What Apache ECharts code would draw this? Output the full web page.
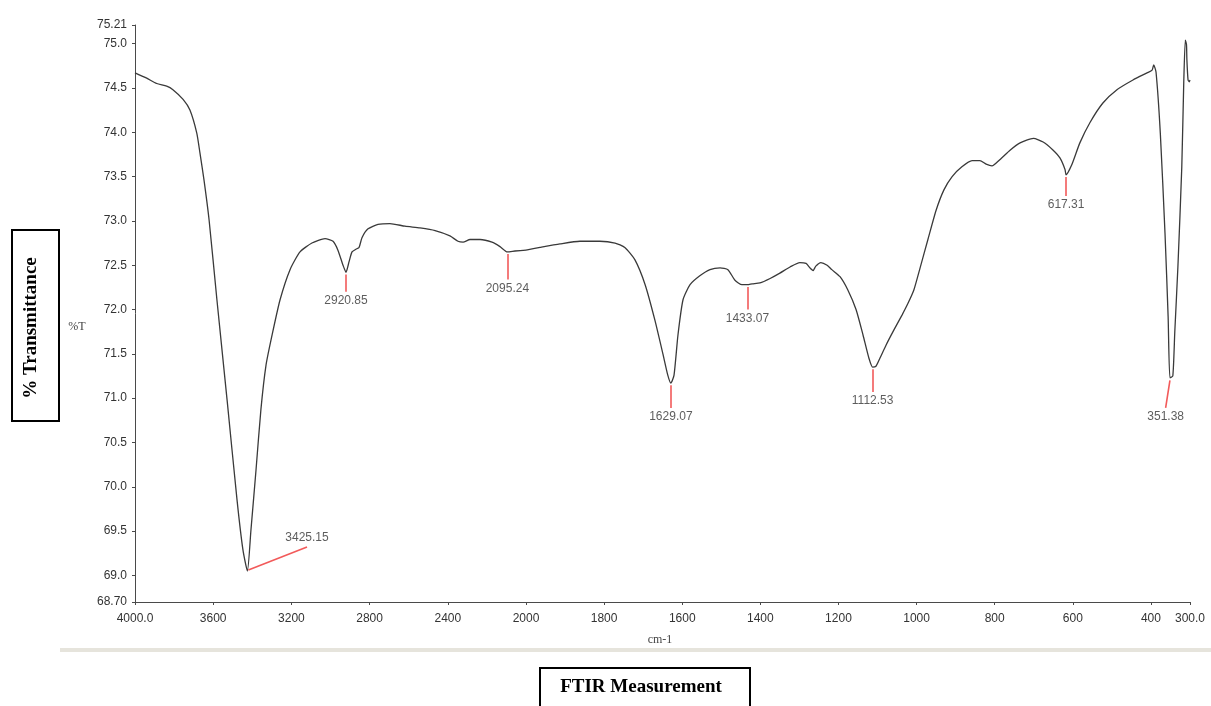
<!DOCTYPE html>
<html>
<head>
<meta charset="utf-8">
<script src="https://cdn.jsdelivr.net/npm/echarts@6/dist/echarts.min.js"></script>
<style>
  html, body { margin: 0; padding: 0; background: #fff; }
  #chart { width: 1211px; height: 706px; }
</style>
</head>
<body>
<div id="chart"></div>
<script>
// FTIR spectrum: wavenumber (cm-1) and % transmittance
const wavenumber = [
  4000, 3940, 3889, 3838, 3806, 3754, 3719, 3684, 3668, 3647, 3621, 3581, 3529, 3478, 3448,
  3425.15, 3407, 3381, 3356, 3330, 3299, 3258, 3207, 3156, 3095, 3028, 2987, 2962, 2936,
  2920.85, 2905, 2890, 2870, 2854, 2839, 2808, 2757, 2696, 2619, 2542, 2465, 2389, 2348,
  2322, 2286, 2235, 2174, 2133, 2095.24, 2056, 2000,
  1964, 1913, 1862, 1811, 1772, 1747, 1721, 1695, 1670, 1649, 1637, 1629.07, 1621, 1611,
  1598, 1580, 1555, 1529, 1503, 1483, 1465, 1447, 1433.07, 1421, 1401, 1375, 1350, 1324,
  1299, 1283, 1273, 1265, 1258, 1245, 1229, 1217, 1196, 1176, 1155, 1137, 1122, 1112.53,
  1104, 1094, 1078, 1058, 1037, 1022, 1007, 991, 971, 950, 930, 909, 884, 858, 838, 822,
  807, 787, 760, 735, 701, 676, 651, 633, 620, 617.31, 603, 582, 556, 523, 487, 446, 410,
  397, 393, 387, 376, 364, 356, 351.38, 344, 339, 331, 321, 316, 312, 309, 308, 305, 302, 300
];
const transmittance = [
  74.67, 74.61, 74.55, 74.52, 74.48, 74.37, 74.25, 73.99, 73.77, 73.46, 73.01, 72.11, 70.98, 69.85, 69.29,
  69.05, 69.51, 70.19, 70.87, 71.37, 71.71, 72.11, 72.45, 72.65, 72.75, 72.80, 72.77, 72.67, 72.50,
  72.42, 72.54, 72.65, 72.68, 72.70, 72.81, 72.91, 72.96, 72.97, 72.94, 72.92, 72.89, 72.83, 72.77,
  72.76, 72.79, 72.79, 72.76, 72.71, 72.65, 72.66, 72.67,
  72.70, 72.74, 72.77, 72.77, 72.75, 72.70, 72.56, 72.28, 71.88, 71.49, 71.26, 71.17, 71.26, 71.71,
  72.11, 72.28, 72.38, 72.45, 72.47, 72.45, 72.33, 72.28, 72.28, 72.29, 72.30, 72.35, 72.41, 72.48,
  72.53, 72.52, 72.47, 72.44, 72.49, 72.53, 72.50, 72.45, 72.37, 72.22, 72.00, 71.71, 71.45, 71.35,
  71.36, 71.45, 71.60, 71.77, 71.94, 72.07, 72.22, 72.47, 72.79, 73.12, 73.35, 73.50, 73.61, 73.68, 73.68, 73.64,
  73.62, 73.69, 73.80, 73.88, 73.93, 73.89, 73.80, 73.71, 73.58, 73.52, 73.63, 73.88, 74.11, 74.33, 74.48, 74.59, 74.67,
  74.70, 74.76, 74.68, 73.99, 72.86, 71.92, 71.23, 71.25, 71.74, 72.48, 73.61, 74.56, 75.04, 74.99, 74.82, 74.59, 74.57, 74.59
];

// Picked peaks
const peakLabels = ['3425.15', '2920.85', '2095.24', '1629.07', '1433.07', '1112.53', '617.31', '351.38'];
const peakWavenumber = [3425.15, 2920.85, 2095.24, 1629.07, 1433.07, 1112.53, 617.31, 351.38];
const peakTransmittance = [69.05, 72.42, 72.65, 71.17, 72.28, 71.35, 73.52, 71.23];

// Axis ticks
const yTickValues = [68.7, 69.0, 69.5, 70.0, 70.5, 71.0, 71.5, 72.0, 72.5, 73.0, 73.5, 74.0, 74.5, 75.0, 75.21];
const xTicksHigh = [4000, 3600, 3200, 2800, 2400, 2000];
const xTicksLow = [1800, 1600, 1400, 1200, 1000, 800, 600, 400, 300];

// The abscissa changes scale at 2000 cm-1 (twice the resolution below it)
const SPLIT = 2000;
const Y_MIN = 68.7, Y_MAX = 75.21;

// Leader geometry for each peak label (offsets in data units)
const leaderStyle = {
  '3425.15': { sx: -5, sy: 0.01, dx: -305, dy: 0.27, pos: 'top' },
  '351.38':  { sx: 0, sy: -0.03, dx: 11, dy: -0.34, pos: 'bottom' }
};
function leaderFor(i) {
  const s = leaderStyle[peakLabels[i]] || { sx: 0, sy: -0.025, dx: 0, dy: -0.28, pos: 'bottom' };
  const drops = { '2920.85': -0.22, '2095.24': -0.31, '617.31': -0.24 };
  const dy = drops[peakLabels[i]] !== undefined ? drops[peakLabels[i]] : s.dy;
  const x0 = peakWavenumber[i] + s.sx, y0 = peakTransmittance[i] + s.sy;
  return { start: [x0, y0], end: [peakWavenumber[i] + s.dx, peakTransmittance[i] + dy], pos: s.pos };
}

const curve = wavenumber.map((w, i) => [w, transmittance[i]]);
const curveHigh = curve.filter(p => p[0] >= SPLIT);
const curveLow = curve.filter(p => p[0] <= SPLIT);

function peaksIn(test) {
  const idx = peakWavenumber.map((w, i) => i).filter(i => test(peakWavenumber[i]));
  return idx.map(i => ({ i, l: leaderFor(i) }));
}
const peaksHigh = peaksIn(w => w >= SPLIT);
const peaksLow = peaksIn(w => w < SPLIT);

const axisColor = '#4a4a4a';
const textColor = '#333';
const font = 'Liberation Sans';
const red = '#f25a5a';

function curveSeries(data, peaks, gi) {
  return {
    type: 'line', xAxisIndex: gi, yAxisIndex: gi, data,
    showSymbol: false, smooth: 0.2, animation: false, silent: true,
    lineStyle: { color: '#3a3a3a', width: 1.3 },
    markLine: {
      silent: true, animation: false, symbol: ['none', 'none'],
      label: { show: false },
      lineStyle: { color: red, width: 1.6, type: 'solid' },
      emphasis: { disabled: true },
      data: peaks.map(p => [{ coord: p.l.start }, { coord: p.l.end }])
    }
  };
}
function labelSeries(peaks, gi) {
  return {
    type: 'scatter', xAxisIndex: gi, yAxisIndex: gi, symbolSize: 0,
    animation: false, silent: true,
    data: peaks.map(p => ({
      name: peakLabels[p.i], value: p.l.end,
      label: { position: p.l.pos, distance: 3 }
    })),
    label: {
      show: true, formatter: '{b}', color: textColor,
      fontFamily: font, fontSize: 12
    }
  };
}

const gridTop = 25, gridBottom = 602, left = 135, splitX = 526, right = 1190;

const option = {
  backgroundColor: '#fff',
  animation: false,
  grid: [
    { left: left, top: gridTop, width: splitX - left, height: gridBottom - gridTop },
    { left: splitX, top: gridTop, width: right - splitX, height: gridBottom - gridTop }
  ],
  xAxis: [
    {
      type: 'value', gridIndex: 0, min: SPLIT, max: 4000, interval: 400, inverse: true,
      axisLine: { onZero: false, lineStyle: { color: axisColor, width: 1 } },
      axisTick: { show: true, inside: false, length: 3, lineStyle: { color: axisColor } },
      splitLine: { show: false },
      axisLabel: {
        margin: 11, color: textColor, fontFamily: font, fontSize: 12,
        customValues: xTicksHigh,
        formatter: v => (v === 4000 ? '4000.0' : String(v))
      }
    },
    {
      type: 'value', gridIndex: 1, min: 300, max: SPLIT, inverse: true,
      axisLine: { onZero: false, lineStyle: { color: axisColor, width: 1 } },
      axisTick: { show: true, inside: false, length: 3, customValues: xTicksLow, lineStyle: { color: axisColor } },
      splitLine: { show: false },
      axisLabel: {
        margin: 11, color: textColor, fontFamily: font, fontSize: 12,
        customValues: xTicksLow,
        formatter: v => (v === 300 ? '300.0' : String(v))
      }
    }
  ],
  yAxis: [
    {
      type: 'value', gridIndex: 0, min: Y_MIN, max: Y_MAX,
      axisLine: { show: true, onZero: false, lineStyle: { color: axisColor, width: 1 } },
      axisTick: { show: true, length: 3, customValues: yTickValues, lineStyle: { color: axisColor } },
      splitLine: { show: false },
      axisLabel: {
        margin: 8, color: textColor, fontFamily: font, fontSize: 12,
        customValues: yTickValues,
        formatter: v => (Math.abs(v - 68.7) < 1e-6 ? '68.70' : Math.abs(v - 75.21) < 1e-6 ? '75.21' : v.toFixed(1))
      }
    },
    {
      type: 'value', gridIndex: 1, min: Y_MIN, max: Y_MAX, show: false,
      splitLine: { show: false }
    }
  ],
  series: [
    curveSeries(curveHigh, peaksHigh, 0),
    curveSeries(curveLow, peaksLow, 1),
    labelSeries(peaksHigh, 0),
    labelSeries(peaksLow, 1)
  ],
  graphic: [
    { type: 'rect', shape: { x: 12, y: 230, width: 47, height: 191 },
      style: { fill: 'none', stroke: '#000', lineWidth: 2 }, silent: true },
    { type: 'text', x: 31, y: 328, rotation: Math.PI / 2,
      style: { text: '% Transmittance', font: 'bold 19px "Liberation Serif"', fill: '#000',
               textAlign: 'center', textVerticalAlign: 'middle' }, silent: true },
    { type: 'text', x: 77, y: 327,
      style: { text: '%T', font: '12px "Liberation Serif"', fill: '#444',
               textAlign: 'center', textVerticalAlign: 'middle' }, silent: true },
    { type: 'text', x: 660, y: 640,
      style: { text: 'cm-1', font: '12px "Liberation Serif"', fill: '#444',
               textAlign: 'center', textVerticalAlign: 'middle' }, silent: true },
    { type: 'rect', shape: { x: 60, y: 648, width: 1151, height: 4 },
      style: { fill: '#e6e4dc' }, silent: true },
    { type: 'rect', shape: { x: 540, y: 668, width: 210, height: 45 },
      style: { fill: 'none', stroke: '#000', lineWidth: 2 }, silent: true },
    { type: 'text', x: 641, y: 687,
      style: { text: 'FTIR Measurement', font: 'bold 19px "Liberation Serif"', fill: '#000',
               textAlign: 'center', textVerticalAlign: 'middle' }, silent: true }
  ]
};

const chart = echarts.init(document.getElementById('chart'), null, { renderer: 'canvas' });
chart.setOption(option);
</script>
</body>
</html>
